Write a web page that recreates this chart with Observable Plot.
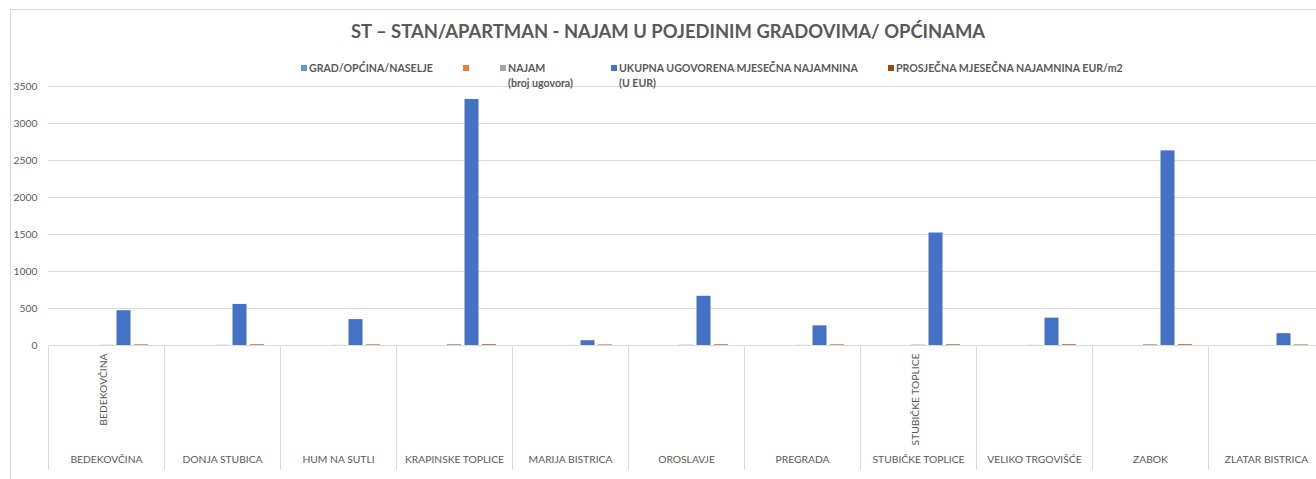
<!DOCTYPE html>
<html>
<head>
<meta charset="utf-8">
<script src="https://cdn.jsdelivr.net/npm/d3@7"></script>
<script src="https://cdn.jsdelivr.net/npm/@observablehq/plot@0.6"></script>
<style>
html, body { margin: 0; padding: 0; background: #fff; overflow: hidden; }
#wrap { position: relative; width: 1316px; height: 479px; overflow: hidden; font-family: Lato, "Open Sans", sans-serif; color: #595959; }
#border { position: absolute; left: 10px; top: 9px; width: 1400px; height: 600px; border: 1px solid #d9d9d9; box-sizing: border-box; }
#title { position: absolute; left: 0; top: 20px; width: 1336px; text-align: center; font-weight: bold; font-size: 18.4px; line-height: 22px; white-space: nowrap; }
#chart { position: absolute; left: 0; top: 0; }
.leg { position: absolute; top: 61px; font-size: 10.6px; font-weight: bold; line-height: 14.5px; white-space: nowrap; }
.leg .sw { position: absolute; left: 0; top: 4px; width: 6px; height: 6px; }
.leg .tx { position: absolute; left: 8px; top: 0; }
</style>
</head>
<body>
<div id="wrap">
  <div id="border"></div>
  <div id="chart"></div>
  <div id="title"></div>
  <div id="legend"></div>
</div>
<script>
// ---- data ----
const title = "ST – STAN/APARTMAN - NAJAM U POJEDINIM GRADOVIMA/ OPĆINAMA";
const categories = ["BEDEKOVČINA", "DONJA STUBICA", "HUM NA SUTLI", "KRAPINSKE TOPLICE", "MARIJA BISTRICA", "OROSLAVJE", "PREGRADA", "STUBIČKE TOPLICE", "VELIKO TRGOVIŠĆE", "ZABOK", "ZLATAR BISTRICA"];
const innerLabels = ["BEDEKOVČINA", "", "", "", "", "", "", "STUBIČKE TOPLICE", "", "", ""];
const seriesNames = ["GRAD/OPĆINA/NASELJE", "", "NAJAM\n(broj ugovora)", "UKUPNA UGOVORENA MJESEČNA NAJAMNINA\n(U EUR)", "PROSJEČNA MJESEČNA NAJAMNINA EUR/m2"];
const seriesColors = ["#5B9BD5", "#ED7D31", "#A5A5A5", "#4472C4", "#9E480E"];
const gradValues = [0, 0, 0, 0, 0, 0, 0, 0, 0, 0, 0];
const blankValues = [0, 0, 0, 0, 0, 0, 0, 0, 0, 0, 0];
const contractCounts = [3, 3, 2, 14, 1, 4, 2, 6, 2, 12, 1];
const totalRent = [470, 555, 350, 3325, 65, 665, 265, 1520, 370, 2630, 160];
const avgRentPerM2 = [7, 8, 7, 9, 6, 8, 7, 8, 9, 9, 6];
const yTicks = [0, 500, 1000, 1500, 2000, 2500, 3000, 3500];

// ---- layout (not data) ----
const legendLeft = [301, 463, 500, 611, 888];

document.getElementById("title").textContent = title;
const legend = document.getElementById("legend");
seriesNames.forEach((name, i) => {
  const item = document.createElement("div");
  item.className = "leg";
  item.style.left = legendLeft[i] + "px";
  const sw = document.createElement("div");
  sw.className = "sw";
  sw.style.background = seriesColors[i];
  const tx = document.createElement("div");
  tx.className = "tx";
  tx.innerHTML = name.split("\n").map(s => s.replace(/&/g, "&amp;")).join("<br>");
  item.appendChild(sw);
  item.appendChild(tx);
  legend.appendChild(item);
});

const seriesValues = [gradValues, blankValues, contractCounts, totalRent, avgRentPerM2];
const bandW = 116, barW = 14, step = 17.5;
const barMarks = seriesValues.map((vals, i) => {
  const c = bandW / 2 + (i - 2) * step;
  const rows = categories.map((cat, j) => ({cat, v: vals[j]}));
  return Plot.barY(rows, {
    x: "cat", y: "v", fill: seriesColors[i],
    insetLeft: c - barW / 2, insetRight: bandW - c - barW / 2
  });
});

const inner = categories.map((cat, j) => ({cat, label: innerLabels[j]})).filter(d => d.label);

const chart = Plot.plot({
  width: 1316,
  height: 479,
  marginTop: 86,
  marginBottom: 134,
  marginLeft: 48,
  marginRight: 0,
  style: {fontFamily: "Lato, 'Open Sans', sans-serif", fontSize: "10.3px", color: "#595959", background: "transparent", overflow: "visible"},
  x: {domain: categories, range: [48, 1324], padding: 0, axis: null},
  y: {domain: [0, 3500], axis: null},
  marks: [
    Plot.ruleY(yTicks, {stroke: "#d9d9d9", strokeWidth: 1}),
    Plot.axisY({ticks: yTicks, tickSize: 0, tickPadding: 11, tickFormat: d => String(d), label: null, fill: "#595959"}),
    Plot.ruleX(categories, {x: d => d, dx: -bandW / 2, stroke: "#d9d9d9", insetTop: 259, insetBottom: -125}),
    ...barMarks,
    Plot.text(inner, {x: "cat", text: "label", rotate: -90, textAnchor: "end", frameAnchor: "bottom", dy: 8, fill: "#595959"}),
    Plot.text(categories, {x: d => d, text: d => d, frameAnchor: "bottom", dy: 117, fill: "#595959"})
  ]
});
document.getElementById("chart").appendChild(chart);
</script>
</body>
</html>
